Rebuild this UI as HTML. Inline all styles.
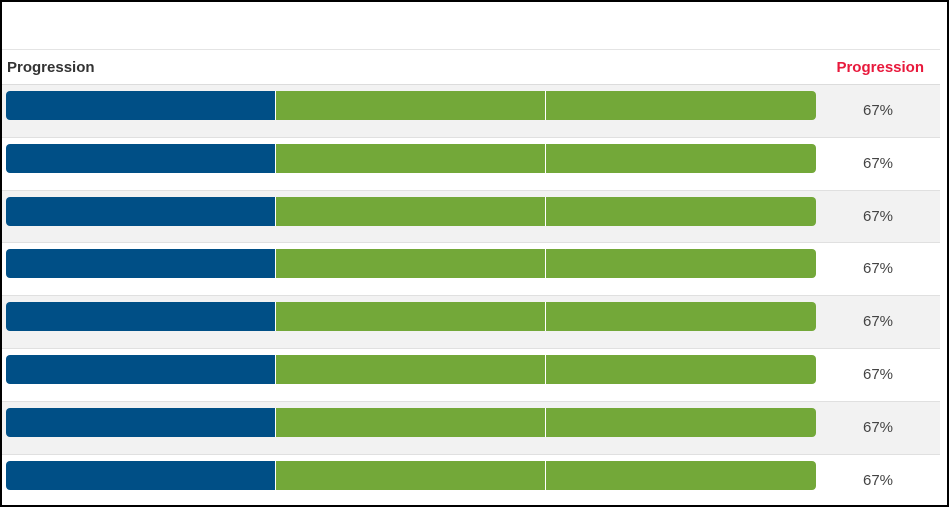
<!DOCTYPE html>
<html><head><meta charset="utf-8"><style>
html,body{margin:0;padding:0;background:#fff;}
body{width:949px;height:507px;overflow:hidden;position:relative;font-family:"Liberation Sans",sans-serif;}
#frame{position:absolute;left:0;top:0;width:945px;height:503px;border:2px solid #000;z-index:10;pointer-events:none;}
#tbl{position:absolute;left:2px;top:49px;width:938px;}
.hdr{position:absolute;top:0;height:34px;width:938px;border-top:1px solid #e4e4e4;border-bottom:2px solid #dcdcdc;}
.hl{position:absolute;left:5px;top:9px;font-weight:bold;font-size:15px;color:#333;}
.hr{position:absolute;right:16px;top:9px;font-weight:bold;font-size:15px;color:#e8193c;}
.row{position:absolute;left:0;width:938px;border-bottom:1px solid #e0e0e0;}
.bar{position:absolute;left:4px;top:6px;width:810px;height:29px;border-radius:4px;overflow:hidden;display:flex;}
.seg{height:100%;border-right:1px solid #fff;box-sizing:border-box;}
.seg:last-child{border-right:none;}
.pct{position:absolute;left:836px;width:80px;text-align:center;top:17px;font-size:15px;color:#444;}
</style></head><body>
<div id="frame"></div>
<div id="tbl">
<div class="hdr">
<span class="hl">Progression</span>
<span class="hr">Progression</span>
</div>
</div>
<script>
const rowLabels=["row-1","row-2","row-3","row-4","row-5","row-6","row-7","row-8"];
const percents=[67,67,67,67,67,67,67,67];
const segStates=["done","current","current"];
const colors={done:"#004f86",current:"#73a839"};
const tbl=document.getElementById('tbl');
const top0=36,rh=52.8;
rowLabels.forEach((lab,i)=>{
  const r=document.createElement('div');
  r.className='row';
  
  
  r.style.top=(top0+i*rh)+'px';
  r.style.height=(rh-1)+'px';
  r.style.background=i%2===0?'#f2f2f2':'#fff';
  const b=document.createElement('div');
  b.className='bar';
  
  
  segStates.forEach(s=>{
    const sg=document.createElement('div');
    sg.className='seg';
    
    
    sg.style.width=(100/segStates.length)+'%';
    sg.style.background=colors[s];
    b.appendChild(sg);
  });
  r.appendChild(b);
  const p=document.createElement('div');
  p.className='pct';
  
  
  p.textContent=percents[i]+'%';
  r.appendChild(p);
  tbl.appendChild(r);
});
</script>
</body></html>
